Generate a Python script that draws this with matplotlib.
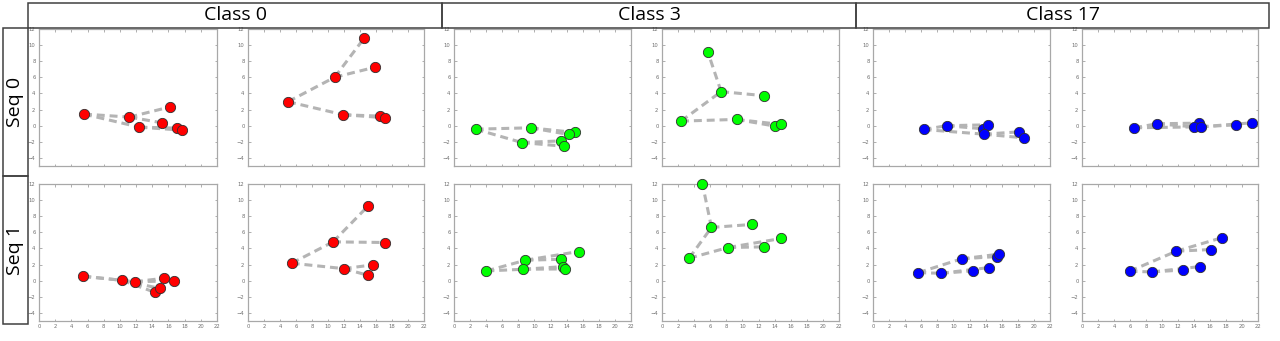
import matplotlib
matplotlib.use("Agg")
import matplotlib.pyplot as plt
from matplotlib.patches import Rectangle

# ---------------- data ----------------
class_names = ["Class 0", "Class 3", "Class 17"]
seq_names = ["Seq 0", "Seq 1"]
class_colors = ["#ff0000", "#00ff00", "#0000ff"]

# skeleton edges between joint indices
edges = [(0, 1), (1, 2), (1, 3), (0, 4), (4, 5), (4, 6)]

# joint coordinates per panel
c0_s0_a_x = [5.56, 11.17, 16.15, 15.20, 12.40, 17.06, 17.64]
c0_s0_a_y = [1.44, 1.07, 2.32, 0.36, -0.18, -0.30, -0.55]
c0_s0_b_x = [5.00, 10.83, 14.50, 15.88, 11.92, 16.50, 17.17]
c0_s0_b_y = [2.98, 6.01, 10.84, 7.26, 1.36, 1.19, 0.99]
c3_s0_a_x = [2.69, 9.51, 15.05, 14.27, 8.44, 13.36, 13.69]
c3_s0_a_y = [-0.43, -0.26, -0.84, -1.09, -2.09, -1.88, -2.55]
c3_s0_b_x = [2.37, 7.35, 5.69, 12.62, 9.26, 14.03, 14.82]
c3_s0_b_y = [0.57, 4.23, 9.17, 3.73, 0.78, -0.05, 0.15]
c17_s0_a_x = [6.29, 9.14, 13.73, 14.27, 13.77, 18.20, 18.78]
c17_s0_a_y = [-0.47, 0.00, -0.39, 0.11, -1.05, -0.76, -1.51]
c17_s0_b_x = [6.52, 9.38, 14.57, 13.95, 14.82, 19.22, 21.25]
c17_s0_b_y = [-0.26, 0.24, 0.32, -0.14, -0.14, 0.11, 0.36]

c0_s1_a_x = [5.47, 10.23, 14.33, 14.91, 11.85, 15.41, 16.74]
c0_s1_a_y = [0.55, 0.05, -1.44, -0.95, -0.12, 0.30, -0.03]
c0_s1_b_x = [5.46, 10.63, 15.00, 17.17, 11.96, 15.58, 15.00]
c0_s1_b_y = [2.17, 4.82, 9.26, 4.74, 1.50, 1.96, 0.67]
c3_s1_a_x = [4.02, 8.88, 13.32, 15.48, 8.59, 13.61, 13.78]
c3_s1_a_y = [1.21, 2.54, 2.66, 3.62, 1.42, 1.75, 1.46]
c3_s1_b_x = [3.37, 6.15, 5.03, 11.17, 8.22, 12.70, 14.82]
c3_s1_b_y = [2.79, 6.61, 12.00, 6.98, 4.12, 4.20, 5.24]
c17_s1_a_x = [5.62, 11.00, 15.38, 15.63, 8.43, 12.37, 14.43]
c17_s1_a_y = [1.00, 2.71, 3.00, 3.29, 0.92, 1.21, 1.63]
c17_s1_b_x = [5.94, 11.79, 16.15, 17.56, 8.76, 12.66, 14.69]
c17_s1_b_y = [1.17, 3.66, 3.87, 5.36, 1.09, 1.33, 1.75]

panels = [
    [(c0_s0_a_x, c0_s0_a_y), (c0_s0_b_x, c0_s0_b_y),
     (c3_s0_a_x, c3_s0_a_y), (c3_s0_b_x, c3_s0_b_y),
     (c17_s0_a_x, c17_s0_a_y), (c17_s0_b_x, c17_s0_b_y)],
    [(c0_s1_a_x, c0_s1_a_y), (c0_s1_b_x, c0_s1_b_y),
     (c3_s1_a_x, c3_s1_a_y), (c3_s1_b_x, c3_s1_b_y),
     (c17_s1_a_x, c17_s1_a_y), (c17_s1_b_x, c17_s1_b_y)],
]

x_ticks = [0, 2, 4, 6, 8, 10, 12, 14, 16, 18, 20, 22]
y_ticks = [-4, -2, 0, 2, 4, 6, 8, 10, 12]

# ---------------- layout ----------------
W, H = 1280, 341
fig = plt.figure(figsize=(W / 100, H / 100), dpi=100)

col_px = [(39, 217), (248, 424), (454, 631), (662, 839), (873, 1050), (1082, 1258)]
row_px = [(29, 166), (184, 321)]

frame_col = "#a8a8a8"
tick_col = "#707070"

for r in range(2):
    for c in range(6):
        x0, x1 = col_px[c]
        y0, y1 = row_px[r]
        ax = fig.add_axes([x0 / W, 1 - y1 / H, (x1 - x0) / W, (y1 - y0) / H])
        xs, ys = panels[r][c]
        for a, b in edges:
            ax.plot([xs[a], xs[b]], [ys[a], ys[b]], color="#b4b4b4", lw=2.2,
                    linestyle=(0, (2.6, 1.6)), solid_capstyle="butt", zorder=1)
        ax.plot(xs, ys, linestyle="none", marker="o", markersize=7.4,
                markerfacecolor=class_colors[c // 2], markeredgecolor="#303030",
                markeredgewidth=0.6, zorder=3, clip_on=False)
        ax.set_xlim(0, 22)
        ax.set_ylim(-5, 12)
        ax.set_xticks(x_ticks)
        ax.set_yticks(y_ticks)
        ax.tick_params(direction="in", length=1.8, width=0.5, color="#909090",
                       labelsize=3.8, labelcolor=tick_col, top=True, right=True,
                       pad=2.5, labelbottom=(r == 1))
        for s in ax.spines.values():
            s.set_color(frame_col)
            s.set_linewidth(0.9)

# header boxes
box_col = "#404040"
class_px = [(28, 442), (442, 856), (856, 1269)]
for (bx0, bx1), name in zip(class_px, class_names):
    fig.patches.append(Rectangle((bx0 / W, 1 - 28 / H), (bx1 - bx0) / W, 25 / H,
                                 transform=fig.transFigure, fill=False,
                                 edgecolor=box_col, lw=1.1))
    fig.text((bx0 + bx1) / 2 / W, 1 - 15.5 / H, name, ha="center", va="center",
             fontsize=14, family=["Open Sans", "DejaVu Sans"], color="#000000")

seq_px = [(28, 176), (176, 324)]
for (by0, by1), name in zip(seq_px, seq_names):
    fig.patches.append(Rectangle((3 / W, 1 - by1 / H), 25 / W, (by1 - by0) / H,
                                 transform=fig.transFigure, fill=False,
                                 edgecolor=box_col, lw=1.1))
    fig.text(15.5 / W, 1 - (by0 + by1) / 2 / H, name, ha="center", va="center",
             rotation=90, fontsize=14, family=["Open Sans", "DejaVu Sans"],
             color="#000000")

fig.savefig("out.png", dpi=100)
